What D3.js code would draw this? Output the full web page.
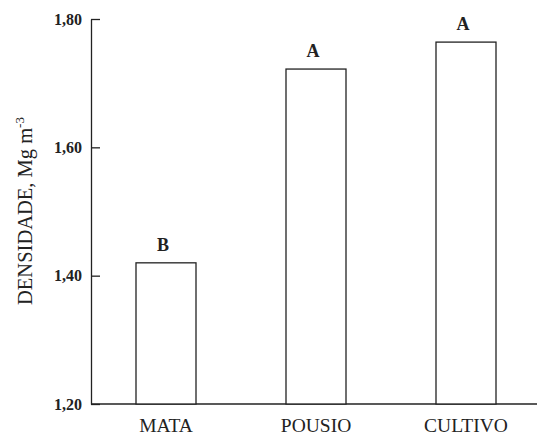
<!DOCTYPE html>
<html>
<head>
<meta charset="utf-8">
<script src="https://cdn.jsdelivr.net/npm/d3@7"></script>
<style>
  body { margin: 0; background: #fff; }
  text { font-family: "Liberation Serif", "Times New Roman", serif; fill: #222; }
</style>
</head>
<body>
<svg id="chart" width="537" height="435"></svg>
<script>
// data
var categories = ["MATA", "POUSIO", "CULTIVO"];
var densidade = [1.42, 1.722, 1.764];
var letras = ["B", "A", "A"];
var yTicks = [1.20, 1.40, 1.60, 1.80];

var svg = d3.select("#chart");
var margin = {left: 91, top: 19, bottom: 31, right: 0};
var w = 537 - margin.left - margin.right,
    h = 435 - margin.top - margin.bottom;

var g = svg.append("g").attr("transform", "translate(" + margin.left + "," + margin.top + ")");

var x = d3.scaleBand()
    .domain(categories)
    .range([0, 450])
    .paddingInner(0.6)
    .paddingOuter(0.3);

var y = d3.scaleLinear().domain([1.2, 1.8]).range([h, 0]);

// y axis, ticks pointing into the plot
var yAxis = g.append("g")
    .call(d3.axisLeft(y).tickValues(yTicks).tickSizeInner(-9).tickSizeOuter(0)
        .tickFormat(function (d) { return d3.format(".2f")(d).replace(".", ","); }));
yAxis.select(".domain").attr("stroke", "#222").attr("stroke-width", 1.3);
yAxis.selectAll(".tick line").attr("stroke", "#222").attr("stroke-width", 1.3);
yAxis.selectAll(".tick text")
    .attr("x", -9)
    .attr("font-size", 16)
    .attr("font-weight", "bold")
    .attr("font-family", "Liberation Serif");

// x axis line running to the right edge
g.append("line")
    .attr("x1", 0).attr("x2", w)
    .attr("y1", h).attr("y2", h)
    .attr("stroke", "#222").attr("stroke-width", 1.3);

g.selectAll(".cat")
    .data(categories)
    .enter().append("text")
    .attr("class", "cat")
    .attr("x", function (d) { return x(d) + x.bandwidth() / 2; })
    .attr("y", h + 28)
    .attr("text-anchor", "middle")
    .attr("font-size", 19.5)
    .text(function (d) { return d; });

// bars
g.selectAll("rect")
    .data(densidade)
    .enter().append("rect")
    .attr("x", function (d, i) { return x(categories[i]); })
    .attr("y", function (d) { return y(d); })
    .attr("width", x.bandwidth())
    .attr("height", function (d) { return h - y(d); })
    .attr("fill", "#fff")
    .attr("stroke", "#222")
    .attr("stroke-width", 1.3);

// significance letters
g.selectAll(".letra")
    .data(letras)
    .enter().append("text")
    .attr("class", "letra")
    .attr("x", function (d, i) { return x(categories[i]) + x.bandwidth() / 2 - 3; })
    .attr("y", function (d, i) { return y(densidade[i]) - 12; })
    .attr("text-anchor", "middle")
    .attr("font-size", 18)
    .attr("font-weight", "bold")
    .text(function (d) { return d; });

// y title
var title = svg.append("text")
    .attr("transform", "translate(32," + 211 + ") rotate(-90)")
    .attr("text-anchor", "middle")
    .attr("font-size", 20.5);
title.append("tspan").text("DENSIDADE, Mg m");
title.append("tspan").attr("dy", -8).attr("font-size", 13).text("-3");
</script>
</body>
</html>
